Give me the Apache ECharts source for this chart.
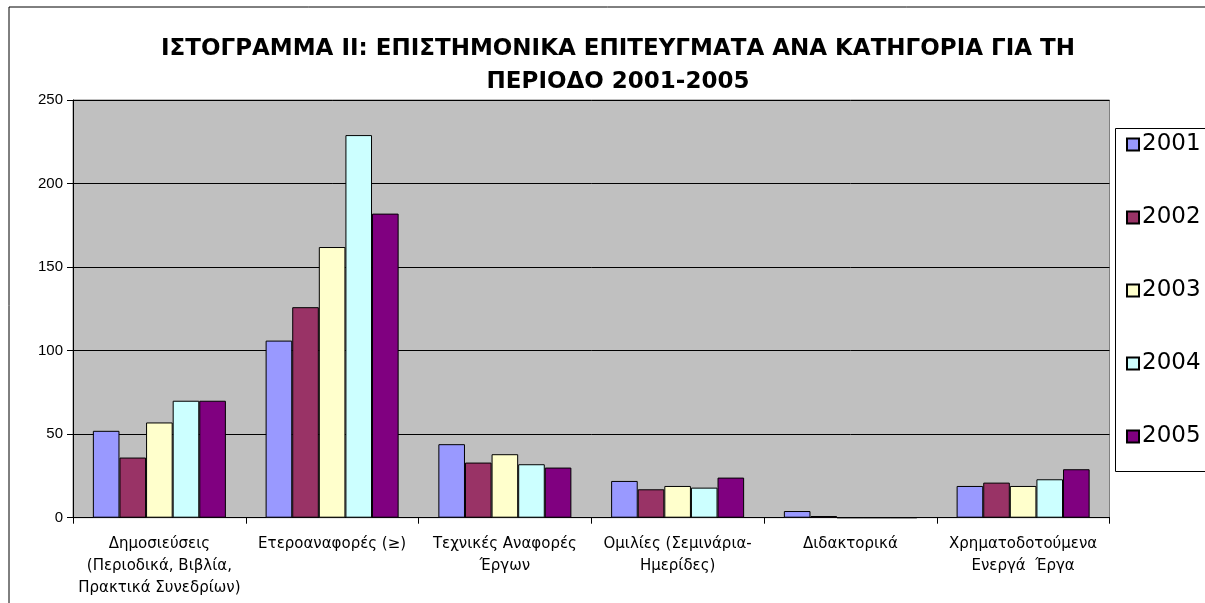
<!DOCTYPE html>
<html>
<head>
<meta charset="utf-8">
<script src="https://cdn.jsdelivr.net/npm/echarts@6/dist/echarts.min.js"></script>
<style>
  html, body { margin: 0; padding: 0; background: #fff; }
  #chart { width: 1205px; height: 603px; }
</style>
</head>
<body>
<div id="chart"></div>
<script>
// categories on the x axis
const categories = [
  'Δημοσιεύσεις\n(Περιοδικά, Βιβλία,\nΠρακτικά Συνεδρίων)',
  'Ετεροαναφορές (≥)',
  'Τεχνικές Αναφορές\nΈργων',
  'Ομιλίες (Σεμινάρια-\nΗμερίδες)',
  'Διδακτορικά',
  'Χρηματοδοτούμενα\nΕνεργά  Έργα'
];
const years = ['2001', '2002', '2003', '2004', '2005'];

// values per year, one per category
const y2001 = [52, 106, 44, 22, 4, 19];
const y2002 = [36, 126, 33, 17, 1, 21];
const y2003 = [57, 162, 38, 19, 0, 19];
const y2004 = [70, 229, 32, 18, 0, 23];
const y2005 = [70, 182, 30, 24, 0, 29];

const yearColors = ['#9999FF', '#993366', '#FFFFCC', '#CCFFFF', '#800080'];
const seriesData = [y2001, y2002, y2003, y2004, y2005];

let myChart = echarts.init(document.getElementById('chart'));

let series = years.map((y, i) => ({
  name: y,
  type: 'bar',
  data: seriesData[i],
  barGap: '0%',
  barCategoryGap: '23%',
  itemStyle: {
    color: yearColors[i],
    borderColor: '#000',
    borderWidth: 1
  }
}));

let options = {
  animation: false,
  backgroundColor: '#fff',
  textStyle: { fontFamily: 'Liberation Sans, Arial, sans-serif' },
  title: {
    text: 'ΙΣΤΟΓΡΑΜΜΑ ΙΙ: ΕΠΙΣΤΗΜΟΝΙΚΑ ΕΠΙΤΕΥΓΜΑΤΑ ΑΝΑ ΚΑΤΗΓΟΡΙΑ ΓΙΑ ΤΗ\nΠΕΡΙΟΔΟ 2001-2005',
    left: 613,
    textAlign: 'center',
    top: 28,
    textStyle: {
      fontSize: 23,
      fontWeight: 'bold',
      color: '#000',
      lineHeight: 33,
      fontFamily: 'DejaVu Sans, sans-serif'
    }
  },
  graphic: [
    {
      type: 'rect',
      silent: true,
      shape: { x: 9, y: 7, width: 1300, height: 700 },
      style: { fill: 'none', stroke: '#000', lineWidth: 1 },
      z: -10
    },
    {
      type: 'rect',
      silent: true,
      shape: { x: 1115.5, y: 128.5, width: 200, height: 343 },
      style: { fill: '#fff', stroke: '#000', lineWidth: 1 },
      z: 0
    }
  ],
  legend: {
    orient: 'vertical',
    left: 1126,
    top: 133,
    icon: 'rect',
    itemWidth: 12,
    itemHeight: 12,
    itemGap: 50,
    padding: 0,
    z: 5,
    textStyle: {
      fontSize: 23,
      color: '#000',
      fontFamily: 'DejaVu Sans, sans-serif',
      padding: [0, 0, 0, -2]
    },
    data: years
  },
  grid: {
    left: 73,
    right: 95.5,
    top: 100,
    bottom: 85.3,
    show: true,
    backgroundColor: '#C0C0C0',
    borderColor: '#808080',
    borderWidth: 1
  },
  xAxis: {
    type: 'category',
    data: categories,
    axisLine: { lineStyle: { color: '#000', width: 1 } },
    axisTick: { show: true, length: 6, lineStyle: { color: '#000' } },
    axisLabel: {
      fontSize: 15,
      color: '#000',
      lineHeight: 22,
      margin: 15,
      interval: 0,
      fontFamily: 'DejaVu Sans, sans-serif'
    }
  },
  yAxis: {
    type: 'value',
    min: 0,
    max: 250,
    interval: 50,
    axisLine: { show: true, lineStyle: { color: '#000' } },
    axisTick: { show: true, length: 6, lineStyle: { color: '#000' } },
    axisLabel: { fontSize: 15, color: '#000', margin: 10 },
    splitLine: { show: true, lineStyle: { color: '#000', width: 1 } }
  },
  series: series
};

myChart.setOption(options);
</script>
</body>
</html>
